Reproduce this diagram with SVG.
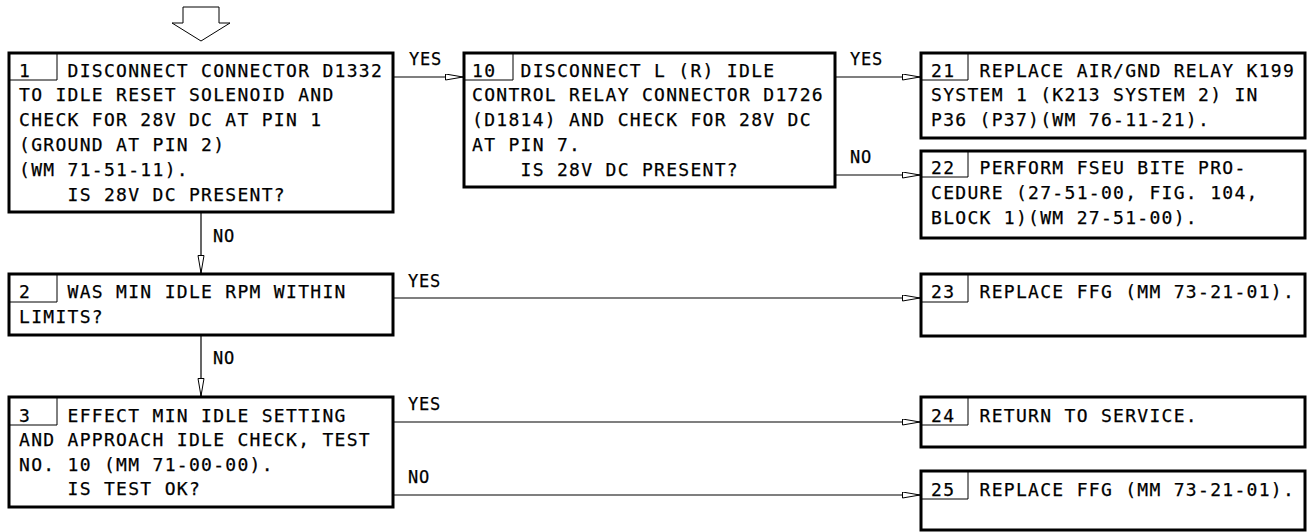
<svg xmlns="http://www.w3.org/2000/svg" width="1311" height="532" viewBox="0 0 1311 532">
<style>
text{font-family:"DejaVu Sans Mono","Liberation Mono",monospace;font-size:18px;letter-spacing:1.3px;fill:#000;stroke:#000;stroke-width:0.25;white-space:pre}
.lbl{font-size:17px;letter-spacing:0.8px}
.box{fill:#fff;stroke:#000;stroke-width:3}
.cell{fill:none;stroke:#000;stroke-width:1}
.con{fill:none;stroke:#000;stroke-width:1.2}
</style>
<defs>
<marker id="ah" markerUnits="userSpaceOnUse" markerWidth="20" markerHeight="8" refX="18" refY="3.5" orient="auto">
<path d="M0.5,0.5 L18,3.5 L0.5,6.5 Z" fill="#fff" stroke="#000" stroke-width="1"/>
</marker>
</defs>
<rect width="1311" height="532" fill="#fff"/>
<g id="start">
<polygon points="183,7 219,7 219,23 230,23 201,41 172,23 183,23" fill="#fff" stroke="#000" stroke-width="1"/>
</g>
<g id="connectors">
<line class="con" x1="393" y1="77" x2="463" y2="77" marker-end="url(#ah)"/>
<text class="lbl" x="409" y="65">YES</text>
<line class="con" x1="201" y1="212" x2="201" y2="273" marker-end="url(#ah)"/>
<text class="lbl" x="213" y="242">NO</text>
<line class="con" x1="201" y1="335" x2="201" y2="396" marker-end="url(#ah)"/>
<text class="lbl" x="213" y="364">NO</text>
<line class="con" x1="835" y1="77" x2="920" y2="77" marker-end="url(#ah)"/>
<text class="lbl" x="850" y="65">YES</text>
<line class="con" x1="835" y1="175" x2="920" y2="175" marker-end="url(#ah)"/>
<text class="lbl" x="850" y="163">NO</text>
<line class="con" x1="393" y1="298" x2="920" y2="298" marker-end="url(#ah)"/>
<text class="lbl" x="408" y="287">YES</text>
<line class="con" x1="393" y1="422" x2="920" y2="422" marker-end="url(#ah)"/>
<text class="lbl" x="408" y="410">YES</text>
<line class="con" x1="393" y1="495" x2="920" y2="495" marker-end="url(#ah)"/>
<text class="lbl" x="408" y="483">NO</text>
</g>
<g id="n1">
<rect class="box" x="9" y="53" width="384" height="159"/>
<path class="cell" d="M9,80 H57 V53"/>
<text x="19" y="76.5">1   DISCONNECT CONNECTOR D1332</text>
<text x="19" y="101.4">TO IDLE RESET SOLENOID AND</text>
<text x="19" y="126.3">CHECK FOR 28V DC AT PIN 1</text>
<text x="19" y="151.2">(GROUND AT PIN 2)</text>
<text x="19" y="176.1">(WM 71-51-11).</text>
<text x="19" y="201">    IS 28V DC PRESENT?</text>
</g>
<g id="n10">
<rect class="box" x="464" y="53" width="371" height="134"/>
<path class="cell" d="M464,80 H513 V53"/>
<text x="472" y="76.5">10  DISCONNECT L (R) IDLE</text>
<text x="472" y="101.4">CONTROL RELAY CONNECTOR D1726</text>
<text x="472" y="126.3">(D1814) AND CHECK FOR 28V DC</text>
<text x="472" y="151.2">AT PIN 7.</text>
<text x="472" y="176.1">    IS 28V DC PRESENT?</text>
</g>
<g id="n21">
<rect class="box" x="921" y="53" width="384" height="85"/>
<path class="cell" d="M921,80 H968 V53"/>
<text x="931" y="76.5">21  REPLACE AIR/GND RELAY K199</text>
<text x="931" y="101">SYSTEM 1 (K213 SYSTEM 2) IN</text>
<text x="931" y="125.5">P36 (P37)(WM 76-11-21).</text>
</g>
<g id="n22">
<rect class="box" x="921" y="151" width="384" height="87"/>
<path class="cell" d="M921,177 H968 V151"/>
<text x="931" y="173.5">22  PERFORM FSEU BITE PRO-</text>
<text x="931" y="199">CEDURE (27-51-00, FIG. 104,</text>
<text x="931" y="224">BLOCK 1)(WM 27-51-00).</text>
</g>
<g id="n2">
<rect class="box" x="9" y="274" width="384" height="61"/>
<path class="cell" d="M9,302 H57 V274"/>
<text x="19" y="298">2   WAS MIN IDLE RPM WITHIN</text>
<text x="19" y="322.5">LIMITS?</text>
</g>
<g id="n3">
<rect class="box" x="9" y="397" width="384" height="110"/>
<path class="cell" d="M9,425 H57 V397"/>
<text x="19" y="421.5">3   EFFECT MIN IDLE SETTING</text>
<text x="19" y="446">AND APPROACH IDLE CHECK, TEST</text>
<text x="19" y="470.5">NO. 10 (MM 71-00-00).</text>
<text x="19" y="495">    IS TEST OK?</text>
</g>
<g id="n23">
<rect class="box" x="921" y="274" width="384" height="62"/>
<path class="cell" d="M921,302 H968 V274"/>
<text x="931" y="298">23  REPLACE FFG (MM 73-21-01).</text>
</g>
<g id="n24">
<rect class="box" x="921" y="397" width="384" height="50"/>
<path class="cell" d="M921,425 H968 V397"/>
<text x="931" y="422">24  RETURN TO SERVICE.</text>
</g>
<g id="n25">
<rect class="box" x="921" y="471" width="384" height="59"/>
<path class="cell" d="M921,499 H968 V471"/>
<text x="931" y="495.5">25  REPLACE FFG (MM 73-21-01).</text>
</g>
</svg>
